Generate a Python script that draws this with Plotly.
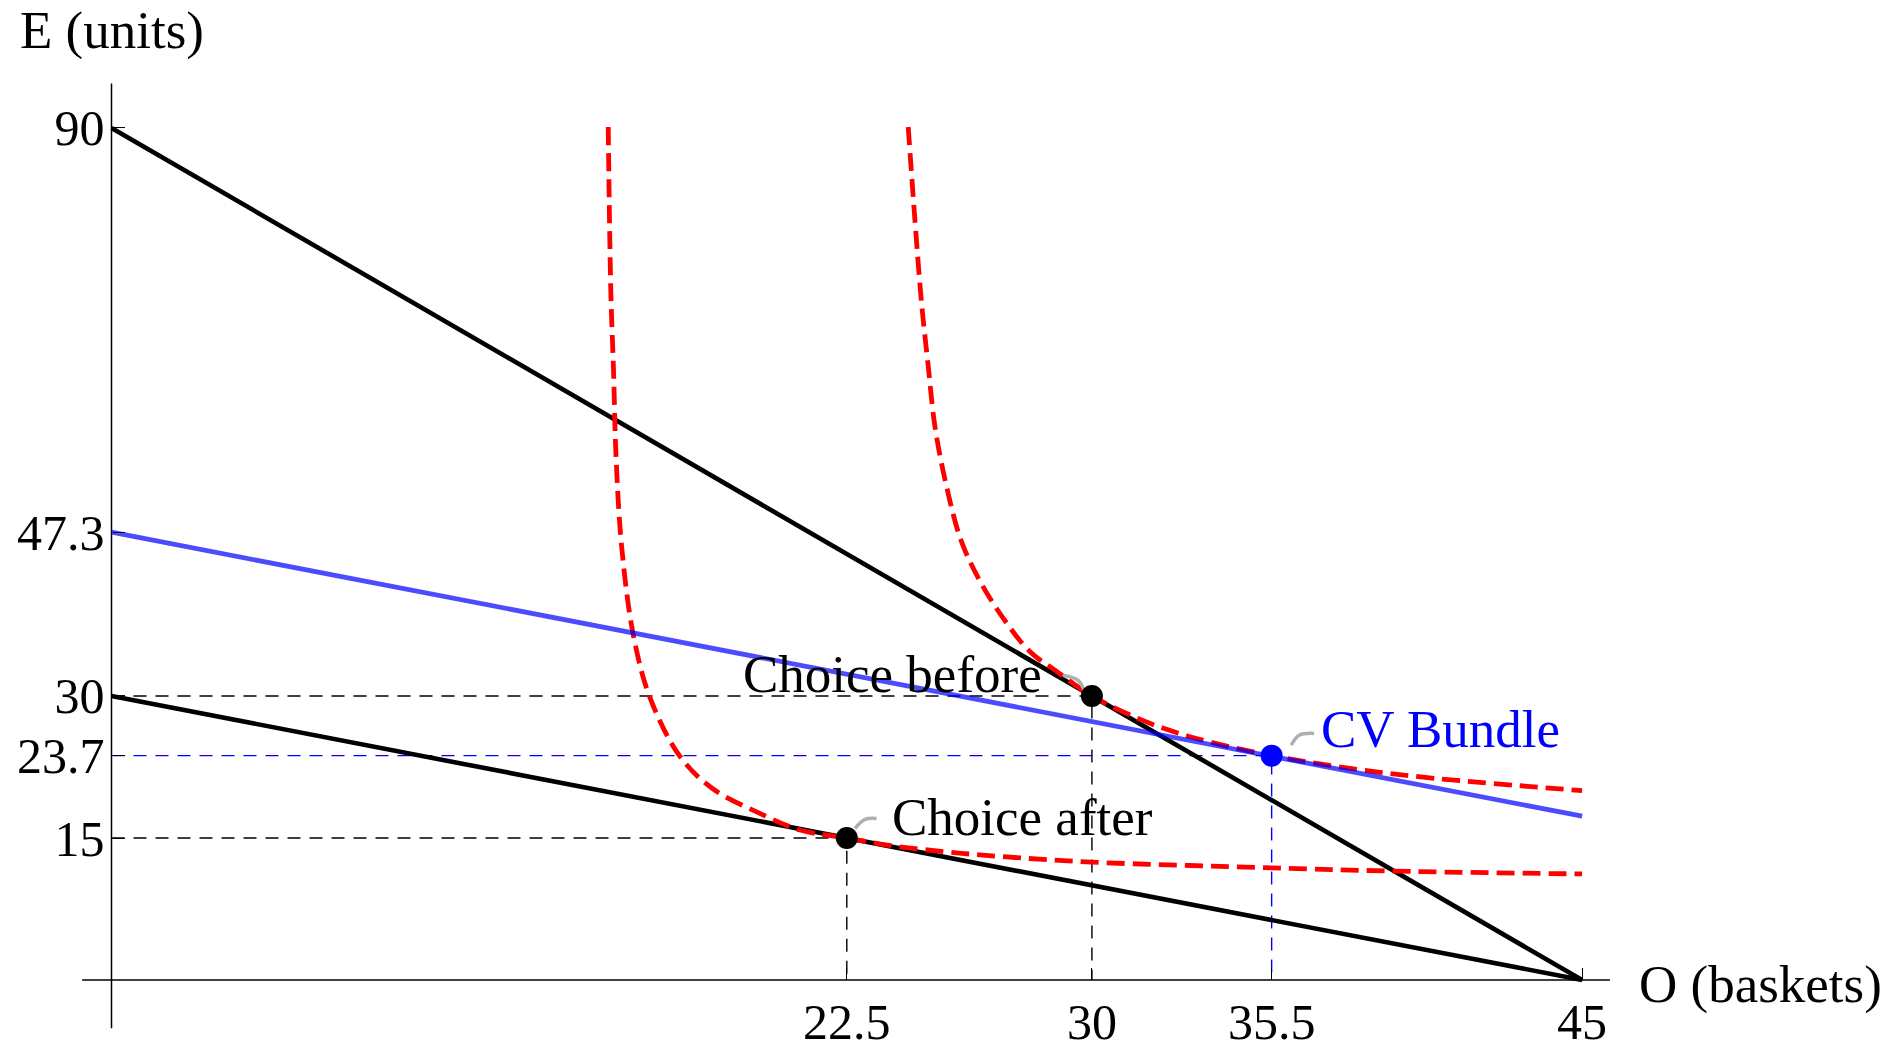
import plotly.graph_objects as go

# ---- data ----
budget_before_O = [0, 45]
budget_before_E = [90, 0]
budget_after_O = [0, 45]
budget_after_E = [30, 0]
cv_line_O = [0, 45]
cv_line_E = [47.3, 17.3]

ic_before_O = [24.38, 24.59, 24.79, 24.99, 25.2, 25.56, 26.0, 26.58, 27.29, 28.1, 28.92, 30.0,
               31.5, 33.0, 35.5, 38.0, 40.5, 45.0]
ic_before_E = [90.1, 80.0, 71.4, 64.9, 58.4, 52.0, 46.4, 42.1, 38.2, 34.7, 32.6, 30.0,
               27.5, 25.7, 23.7, 22.3, 21.3, 20.0]
ic_after_O = [15.2, 15.28, 15.36, 15.44, 15.61, 15.97, 16.48, 17.4, 18.4, 19.84, 21.07, 22.5,
              23.73, 25.5, 27.2, 30.0, 35.5, 39.25, 45.0]
ic_after_E = [90.1, 72.6, 64.6, 55.2, 45.8, 36.4, 29.8, 23.6, 20.2, 17.6, 15.84, 15.0,
              14.25, 13.55, 13.05, 12.45, 11.85, 11.5, 11.2]

before_pt = (30, 30)
after_pt = (22.5, 15)
cv_pt = (35.5, 23.7)

x_ticks = [22.5, 30, 35.5, 45]
x_ticktext = ["22.5", "30", "35.5", "45"]
y_ticks = [15, 23.7, 30, 47.3, 90]
y_ticktext = ["15", "23.7", "30", "47.3", "90"]

x_axis_extent = [-0.9, 45.85]
y_axis_extent = [-5.1, 94.7]

FONT = "Liberation Serif"
BLUE = "rgb(0,0,255)"

fig = go.Figure()

def line(x, y, color, width, dash=None, shape="linear"):
    fig.add_trace(go.Scatter(x=x, y=y, mode="lines", hoverinfo="skip",
                             line=dict(color=color, width=width, dash=dash, shape=shape)))

# axes lines
line(x_axis_extent, [0, 0], "black", 1.5)
line([0, 0], y_axis_extent, "black", 1.5)

# guide lines
line([0, before_pt[0], before_pt[0]], [before_pt[1], before_pt[1], 0], "black", 1.4, "13px,9px")
line([0, after_pt[0], after_pt[0]], [after_pt[1], after_pt[1], 0], "black", 1.4, "13px,9px")
line([0, cv_pt[0], cv_pt[0]], [cv_pt[1], cv_pt[1], 0], BLUE, 1.4, "13px,9px")

# budget lines
line(budget_before_O, budget_before_E, "black", 4.6)
line(budget_after_O, budget_after_E, "black", 4.6)

# indifference curves
line(ic_before_O, ic_before_E, "rgb(255,0,0)", 4.8, "18px,8px", "spline")
line(ic_after_O, ic_after_E, "rgb(255,0,0)", 4.8, "18px,8px", "spline")

# CV budget line
line(cv_line_O, cv_line_E, "rgba(0,0,255,0.7)", 4.8)

# connectors
GRAY = "rgb(175,175,175)"
line([29.12, 29.57, 29.76], [32.2, 31.68, 30.62], GRAY, 3.5, shape="spline")
line([22.75, 23.06, 23.41], [16.02, 16.97, 17.07], GRAY, 3.5, shape="spline")
line([36.1, 36.35, 36.8], [24.8, 25.87, 26.05], GRAY, 3.5, shape="spline")

# points
fig.add_trace(go.Scatter(x=[before_pt[0], after_pt[0]], y=[before_pt[1], after_pt[1]], mode="markers",
                         hoverinfo="skip", marker=dict(color="black", size=22)))
fig.add_trace(go.Scatter(x=[cv_pt[0]], y=[cv_pt[1]], mode="markers", hoverinfo="skip",
                         marker=dict(color=BLUE, size=22)))

ann = [
    dict(x=28.53, y=32.3, text="Choice before", xanchor="right", yanchor="middle",
         font=dict(family=FONT, size=53, color="black")),
    dict(x=23.82, y=17.25, text="Choice after", xanchor="left", yanchor="middle",
         font=dict(family=FONT, size=53, color="black")),
    dict(x=36.94, y=26.5, text="CV Bundle", xanchor="left", yanchor="middle",
         font=dict(family=FONT, size=53, color=BLUE)),
    dict(x=0, y=100.3, text="E (units)", xanchor="center", yanchor="middle",
         font=dict(family=FONT, size=53, color="black")),
    dict(x=46.68, y=-0.5, text="O (baskets)", xanchor="left", yanchor="middle",
         font=dict(family=FONT, size=53, color="black")),
]
for a in ann:
    a.update(xref="x", yref="y", showarrow=False)

fig.update_layout(
    width=1901, height=1052,
    margin=dict(l=0, r=0, t=0, b=0, pad=0, autoexpand=False),
    paper_bgcolor="white", plot_bgcolor="white",
    showlegend=False,
    annotations=ann,
    xaxis=dict(range=[-3.4119, 54.758], domain=[0, 1], anchor="free", position=72 / 1052,
               automargin=False,
               showgrid=False, zeroline=False, showline=False,
               tickmode="array", tickvals=x_ticks, ticktext=x_ticktext,
               ticks="inside", ticklen=12, tickwidth=1.4, tickcolor="black",
               ticklabelstandoff=8,
               tickfont=dict(family=FONT, size=50, color="black"), fixedrange=True),
    yaxis=dict(range=[-7.606, 103.52], domain=[0, 1], anchor="free", position=111.5 / 1901,
               automargin=False,
               showgrid=False, zeroline=False, showline=False,
               tickmode="array", tickvals=y_ticks, ticktext=y_ticktext,
               ticks="inside", ticklen=12, tickwidth=1.4, tickcolor="black",
               ticklabelstandoff=7,
               tickfont=dict(family=FONT, size=50, color="black"), fixedrange=True),
)

fig.write_html("out.html", config={"displayModeBar": False},
               post_script="document.body.style.margin='0';document.body.style.overflow='hidden';")
